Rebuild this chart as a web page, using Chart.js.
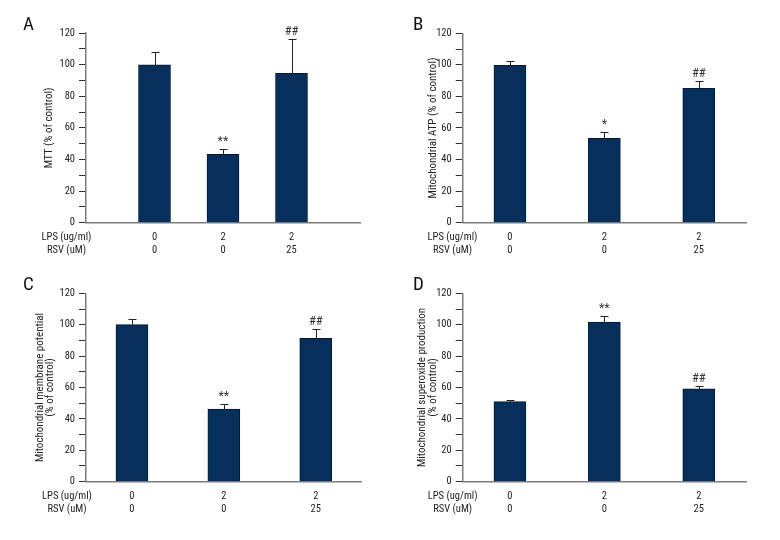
<!DOCTYPE html>
<html>
<head>
<meta charset="utf-8">
<script src="https://cdn.jsdelivr.net/npm/chart.js@4.4.1/dist/chart.umd.min.js"></script>
<style>
  html, body { margin: 0; padding: 0; background: #fff; }
  #wrap { position: relative; width: 780px; height: 540px; }
  .panel { position: absolute; width: 390px; height: 270px; }
</style>
</head>
<body>
<div id="wrap">
  <div class="panel" style="left:0;top:0"><canvas id="chartA" width="390" height="270"></canvas></div>
  <div class="panel" style="left:390px;top:0"><canvas id="chartB" width="390" height="270"></canvas></div>
  <div class="panel" style="left:0;top:270px"><canvas id="chartC" width="390" height="270"></canvas></div>
  <div class="panel" style="left:390px;top:270px"><canvas id="chartD" width="390" height="270"></canvas></div>
</div>
<script>
// =======================
// Data
// =======================
const lpsDose = ['0', '2', '2'];
const rsvDose = ['0', '0', '25'];
const rowHeaders = ['LPS (ug/ml)', 'RSV (uM)'];

const mttMean = [99.8, 43.3, 94.5];
const mttErr  = [8.3, 3.5, 21.9];
const mttSig  = ['', '**', '##'];

const atpMean = [99.7, 53.4, 85.1];
const atpErr  = [2.6, 3.9, 4.5];
const atpSig  = ['', '*', '##'];

const mmpMean = [100, 46.3, 91.3];
const mmpErr  = [3.4, 3.2, 6.0];
const mmpSig  = ['', '**', '##'];

const soxMean = [51.0, 101.6, 59.1];
const soxErr  = [0.9, 3.8, 1.9];
const soxSig  = ['', '**', '##'];

const yMax = 120;

// =======================
// Look
// =======================
const FONT = '"Roboto Condensed", "Open Sans Condensed", "DejaVu Sans Condensed", sans-serif';
const BAR = '#062f5c';
const BAR_EDGE = '#021a36';
const INK = '#222';
const AXIS = '#7d7d7d';
const TITLE_SIZE = 11, TITLE_LH = 0.95;
const TICK_SIZE = 10.5, TICK_LH = 1.27, XTICK_PAD = 8;
const MARK_SIZE = 12.5;

// layout of each panel inside its 390x270 canvas
const panels = [
  { id: 'chartA', letter: 'A', letterY: 30, title: 'MTT (% of control)',
    values: mttMean, errors: mttErr, marks: mttSig,
    axisX: 86, top: 33, bottom: 222.7, right: 360, titleX: 49, headerX: 66.5, edgePad: true },
  { id: 'chartB', letter: 'B', letterY: 30, title: 'Mitochondrial ATP (% of control)',
    values: atpMean, errors: atpErr, marks: atpSig,
    axisX: 72.7, top: 33.3, bottom: 222.7, right: 356, titleX: 43, headerX: 62.5, edgePad: false },
  { id: 'chartC', letter: 'C', letterY: 19.5, title: ['Mitochondrial membrane potential', '(% of control)'],
    values: mmpMean, errors: mmpErr, marks: mmpSig,
    axisX: 86, top: 23.3, bottom: 211.7, right: 361.7, titleX: 40, headerX: 67, edgePad: false },
  { id: 'chartD', letter: 'D', letterY: 19.5, title: ['Mitochondrial superoxide production', '(% of control)'],
    values: soxMean, errors: soxErr, marks: soxSig,
    axisX: 72.7, top: 23.3, bottom: 211.7, right: 356, titleX: 32.5, headerX: 62.7, edgePad: false }
];

// =======================
// Error bars, significance marks, row headers, panel letter
// =======================
const panelDecor = {
  id: 'panelDecor',
  afterDatasetsDraw(chart, args, opts) {
    const ctx = chart.ctx;
    const ys = chart.scales.y;
    const meta = chart.getDatasetMeta(0);
    const data = chart.data.datasets[0].data;
    ctx.save();
    ctx.strokeStyle = INK;
    ctx.lineWidth = 1;
    ctx.fillStyle = '#333';
    ctx.font = MARK_SIZE + 'px ' + FONT;
    ctx.textAlign = 'center';
    ctx.textBaseline = 'middle';
    meta.data.forEach((bar, i) => {
      const v = data[i];
      if (v == null) return;
      const x = Math.round(bar.x) + 0.5;
      const yTop = Math.round(ys.getPixelForValue(v + opts.errors[i])) + 0.5;
      ctx.beginPath();
      ctx.moveTo(x, bar.y);
      ctx.lineTo(x, yTop);
      ctx.moveTo(x - 4, yTop);
      ctx.lineTo(x + 4, yTop);
      ctx.stroke();
      if (opts.marks[i]) ctx.fillText(opts.marks[i], bar.x, yTop - 7.5);
    });
    ctx.restore();
  },
  afterDraw(chart, args, opts) {
    const ctx = chart.ctx;
    const xs = chart.scales.x;
    ctx.save();
    ctx.fillStyle = INK;
    ctx.font = TICK_SIZE + 'px ' + FONT;
    ctx.textAlign = 'center';
    ctx.textBaseline = 'middle';
    const lh = TICK_SIZE * TICK_LH;
    rowHeaders.forEach((h, r) => {
      ctx.fillText(h, opts.headerX, xs.top + XTICK_PAD + lh / 2 + r * lh);
    });
    ctx.font = '19px ' + FONT;
    ctx.textAlign = 'left';
    ctx.textBaseline = 'alphabetic';
    ctx.fillStyle = '#111';
    ctx.fillText(opts.letter, 23, opts.letterY);
    ctx.restore();
  }
};

// =======================
// Build one panel
// =======================
function buildPanel(p) {
  let labels = lpsDose.map((d, i) => [d, rsvDose[i]]);
  let values = p.values.slice();
  let errors = p.errors.slice();
  let marks = p.marks.slice();
  if (p.edgePad) {
    labels = [['', ''], ...labels, ['', '']];
    values = [null, ...values, null];
    errors = [0, ...errors, 0];
    marks = ['', ...marks, ''];
  }
  const padLeft = p.titleX - TITLE_SIZE * TITLE_LH / 2;

  new Chart(document.getElementById(p.id), {
    type: 'bar',
    data: {
      labels: labels,
      datasets: [{
        data: values,
        backgroundColor: BAR,
        borderColor: BAR_EDGE,
        borderWidth: 1,
        barThickness: 32
      }]
    },
    options: {
      responsive: false,
      animation: false,
      layout: { padding: { left: padLeft, top: p.top, right: 390 - p.right, bottom: 0 } },
      plugins: {
        legend: { display: false },
        tooltip: { enabled: false },
        panelDecor: { errors: errors, marks: marks, headerX: p.headerX, letter: p.letter, letterY: p.letterY }
      },
      scales: {
        x: {
          offset: !p.edgePad,
          grid: { display: false, drawTicks: false },
          border: { display: true, color: AXIS, width: 1.5 },
          ticks: {
            color: INK, padding: XTICK_PAD, maxRotation: 0, autoSkip: false,
            font: { family: FONT, size: TICK_SIZE, lineHeight: TICK_LH }
          },
          afterFit: s => { s.height = 270 - p.bottom; }
        },
        y: {
          min: 0, max: yMax,
          grid: { drawOnChartArea: false, drawTicks: true, tickLength: 7, color: '#333', lineWidth: 1 },
          border: { display: true, color: AXIS, width: 1.5 },
          ticks: {
            stepSize: 10, color: INK, padding: 4,
            font: { family: FONT, size: TICK_SIZE },
            callback: v => (v % 20 === 0 ? v : '')
          },
          title: {
            display: true, text: p.title, color: INK, padding: 0,
            font: { family: FONT, size: TITLE_SIZE, lineHeight: TITLE_LH }
          },
          afterFit: s => { s.width = p.axisX - padLeft; }
        }
      }
    },
    plugins: [panelDecor]
  });
}

panels.forEach(buildPanel);
</script>
</body>
</html>
